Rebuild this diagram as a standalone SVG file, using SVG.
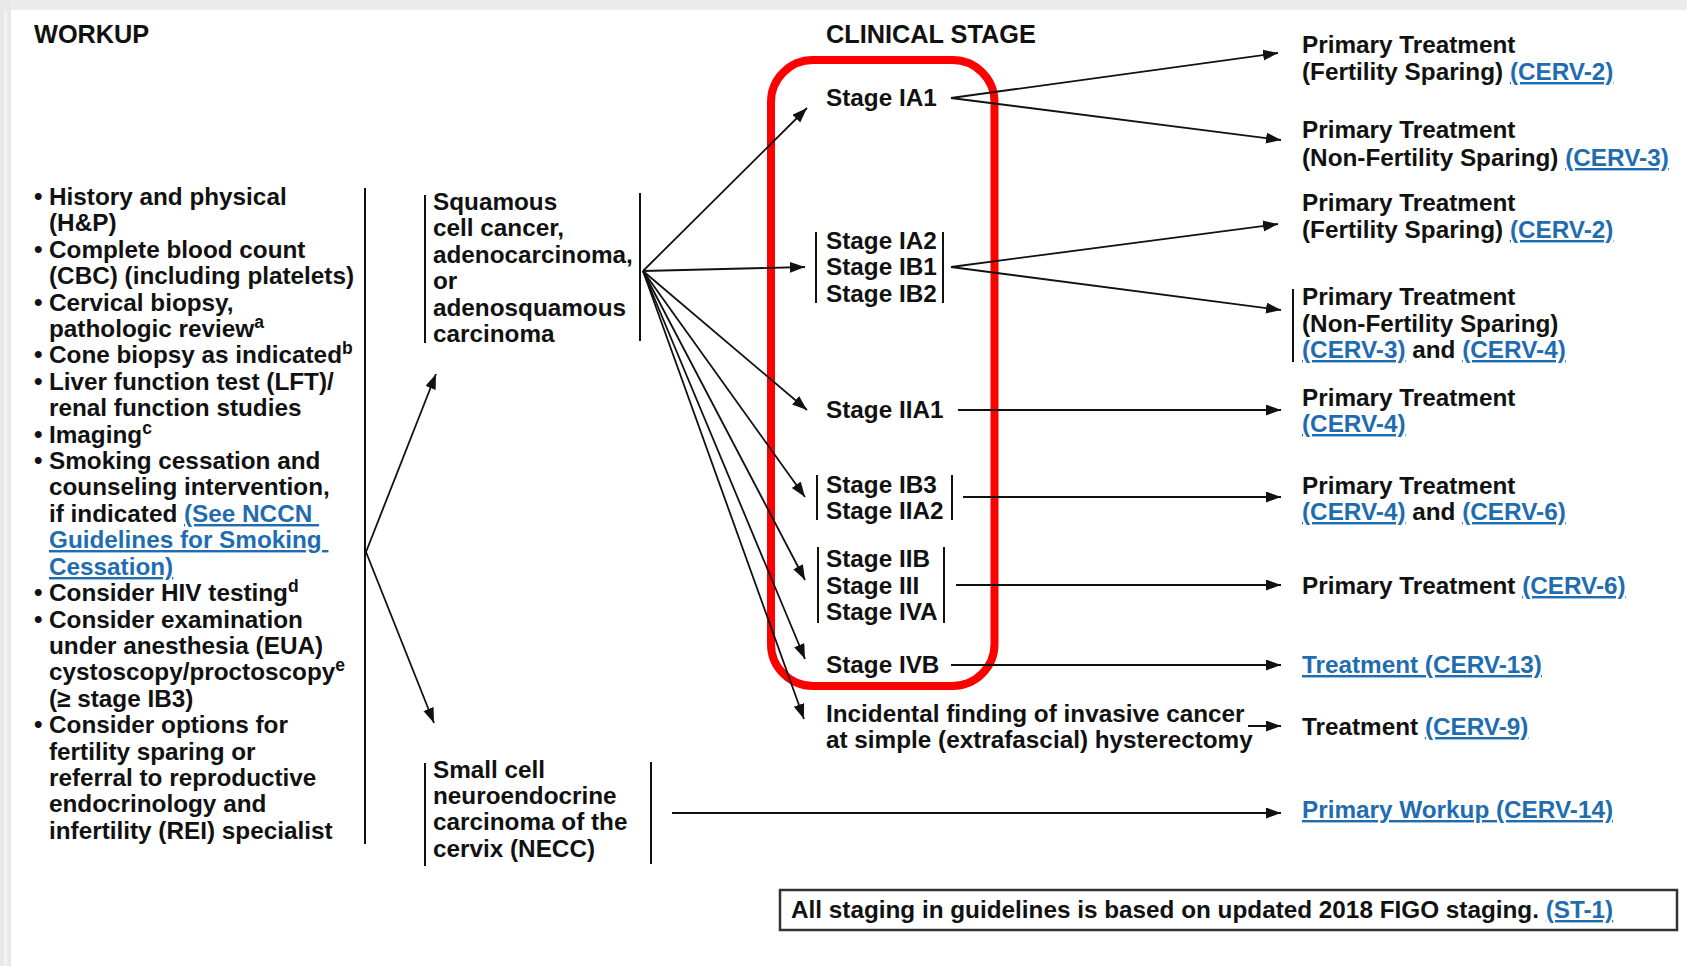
<svg xmlns="http://www.w3.org/2000/svg" width="1687" height="966" viewBox="0 0 1687 966">
<style>
.t{font-family:"Liberation Sans",Arial,Helvetica,sans-serif;font-weight:bold;font-size:24.3px;fill:#111;white-space:pre}
.h{font-size:25.3px}
.lk{fill:#1f6db0;text-decoration:underline}
.sup{font-size:17.5px}
.bar{stroke:#111;stroke-width:2;fill:none}
.ca{stroke:#111;stroke-width:1.8;fill:none;marker-end:url(#ah)}
</style>
<defs>
<marker id="ah" markerUnits="userSpaceOnUse" markerWidth="16" markerHeight="12" refX="15" refY="5.5" orient="auto">
<path d="M0,0 L15,5.5 L0,11 z" fill="#111"/>
</marker>
</defs>
<rect x="0" y="0" width="1687" height="966" fill="#ffffff"/>
<rect x="0" y="0" width="1687" height="10" fill="#ebebeb"/>
<rect x="0" y="0" width="11" height="966" fill="#e8e8e8"/>
<rect x="4" y="10" width="3" height="956" fill="#f2f2f2"/>

<g id="header-workup"><text class="t h" x="34" y="43">WORKUP</text></g>
<g id="header-stage"><text class="t h" x="826" y="43">CLINICAL STAGE</text></g>

<g id="workup">
<text class="t" x="34" y="205">•</text><text class="t" x="49" y="205">History and physical</text>
<text class="t" x="49" y="231">(H&amp;P)</text>
<text class="t" x="34" y="258">•</text><text class="t" x="49" y="258">Complete blood count</text>
<text class="t" x="49" y="284">(CBC) (including platelets)</text>
<text class="t" x="34" y="311">•</text><text class="t" x="49" y="311">Cervical biopsy,</text>
<text class="t" x="49" y="337">pathologic review<tspan class="sup" dy="-9">a</tspan></text>
<text class="t" x="34" y="363">•</text><text class="t" x="49" y="363">Cone biopsy as indicated<tspan class="sup" dy="-9">b</tspan></text>
<text class="t" x="34" y="390">•</text><text class="t" x="49" y="390">Liver function test (LFT)/</text>
<text class="t" x="49" y="416">renal function studies</text>
<text class="t" x="34" y="443">•</text><text class="t" x="49" y="443">Imaging<tspan class="sup" dy="-9">c</tspan></text>
<text class="t" x="34" y="469">•</text><text class="t" x="49" y="469">Smoking cessation and</text>
<text class="t" x="49" y="495">counseling intervention,</text>
<text class="t" x="49" y="522">if indicated <tspan class="lk">(See NCCN </tspan></text>
<text class="t" x="49" y="548"><tspan class="lk">Guidelines for Smoking </tspan></text>
<text class="t" x="49" y="575"><tspan class="lk">Cessation)</tspan></text>
<text class="t" x="34" y="601">•</text><text class="t" x="49" y="601">Consider HIV testing<tspan class="sup" dy="-9">d</tspan></text>
<text class="t" x="34" y="628">•</text><text class="t" x="49" y="628">Consider examination</text>
<text class="t" x="49" y="654">under anesthesia (EUA)</text>
<text class="t" x="49" y="680">cystoscopy/proctoscopy<tspan class="sup" dy="-9">e</tspan></text>
<text class="t" x="49" y="707">(≥ stage IB3)</text>
<text class="t" x="34" y="733">•</text><text class="t" x="49" y="733">Consider options for</text>
<text class="t" x="49" y="760">fertility sparing or</text>
<text class="t" x="49" y="786">referral to reproductive</text>
<text class="t" x="49" y="812">endocrinology and</text>
<text class="t" x="49" y="839">infertility (REI) specialist</text>
<line class="bar" x1="365" y1="188" x2="365" y2="844"/>
</g>

<g id="squamous">
<line class="bar" x1="425" y1="195" x2="425" y2="343"/>
<text class="t" x="433" y="210">Squamous</text>
<text class="t" x="433" y="236">cell cancer,</text>
<text class="t" x="433" y="263">adenocarcinoma,</text>
<text class="t" x="433" y="289">or</text>
<text class="t" x="433" y="316">adenosquamous</text>
<text class="t" x="433" y="342">carcinoma</text>
<line class="bar" x1="640" y1="193" x2="640" y2="341"/>
</g>

<g id="necc">
<line class="bar" x1="425" y1="763" x2="425" y2="866"/>
<text class="t" x="433" y="778">Small cell</text>
<text class="t" x="433" y="804">neuroendocrine</text>
<text class="t" x="433" y="830">carcinoma of the</text>
<text class="t" x="433" y="857">cervix (NECC)</text>
<line class="bar" x1="651" y1="762" x2="651" y2="864"/>
</g>

<g id="highlight">
<rect x="771" y="60" width="223.5" height="626" rx="42" ry="42" fill="none" stroke="#ff0000" stroke-width="8"/>
</g>

<g id="stage-ia1"><text class="t" x="826" y="106">Stage IA1</text></g>
<g id="stage-ia2">
<line class="bar" x1="816" y1="232" x2="816" y2="303"/>
<text class="t" x="826" y="249">Stage IA2</text>
<text class="t" x="826" y="275">Stage IB1</text>
<text class="t" x="826" y="302">Stage IB2</text>
<line class="bar" x1="943" y1="232" x2="943" y2="303"/>
</g>
<g id="stage-iia1"><text class="t" x="826" y="418">Stage IIA1</text></g>
<g id="stage-ib3">
<line class="bar" x1="817" y1="475" x2="817" y2="520"/>
<text class="t" x="826" y="493">Stage IB3</text>
<text class="t" x="826" y="519">Stage IIA2</text>
<line class="bar" x1="952" y1="475" x2="952" y2="520"/>
</g>
<g id="stage-iib">
<line class="bar" x1="818" y1="547" x2="818" y2="623"/>
<text class="t" x="826" y="567">Stage IIB</text>
<text class="t" x="826" y="594">Stage III</text>
<text class="t" x="826" y="620">Stage IVA</text>
<line class="bar" x1="944" y1="547" x2="944" y2="623"/>
</g>
<g id="stage-ivb"><text class="t" x="826" y="673">Stage IVB</text></g>
<g id="incidental">
<text class="t" x="826" y="722">Incidental finding of invasive cancer</text>
<text class="t" x="826" y="748">at simple (extrafascial) hysterectomy</text>
</g>

<g id="tx-fs1">
<text class="t" x="1302" y="53">Primary Treatment</text>
<text class="t" x="1302" y="80">(Fertility Sparing) <tspan class="lk">(CERV-2)</tspan></text>
</g>
<g id="tx-nfs1">
<text class="t" x="1302" y="138">Primary Treatment</text>
<text class="t" x="1302" y="166">(Non-Fertility Sparing) <tspan class="lk">(CERV-3)</tspan></text>
</g>
<g id="tx-fs2">
<text class="t" x="1302" y="211">Primary Treatment</text>
<text class="t" x="1302" y="238">(Fertility Sparing) <tspan class="lk">(CERV-2)</tspan></text>
</g>
<g id="tx-nfs2">
<line class="bar" x1="1293" y1="289" x2="1293" y2="362"/>
<text class="t" x="1302" y="305">Primary Treatment</text>
<text class="t" x="1302" y="332">(Non-Fertility Sparing)</text>
<text class="t" x="1302" y="358"><tspan class="lk">(CERV-3)</tspan> and <tspan class="lk">(CERV-4)</tspan></text>
</g>
<g id="tx-cerv4">
<text class="t" x="1302" y="406">Primary Treatment</text>
<text class="t" x="1302" y="432"><tspan class="lk">(CERV-4)</tspan></text>
</g>
<g id="tx-cerv46">
<text class="t" x="1302" y="494">Primary Treatment</text>
<text class="t" x="1302" y="520"><tspan class="lk">(CERV-4)</tspan> and <tspan class="lk">(CERV-6)</tspan></text>
</g>
<g id="tx-cerv6"><text class="t" x="1302" y="594">Primary Treatment <tspan class="lk">(CERV-6)</tspan></text></g>
<g id="tx-cerv13"><text class="t" x="1302" y="673"><tspan class="lk">Treatment (CERV-13)</tspan></text></g>
<g id="tx-cerv9"><text class="t" x="1302" y="735">Treatment <tspan class="lk">(CERV-9)</tspan></text></g>
<g id="tx-cerv14"><text class="t" x="1302" y="818"><tspan class="lk">Primary Workup (CERV-14)</tspan></text></g>

<g id="note">
<rect x="780" y="890" width="897" height="40" fill="none" stroke="#333" stroke-width="2.5"/>
<text class="t" x="791" y="918">All staging in guidelines is based on updated 2018 FIGO staging. <tspan class="lk">(ST-1)</tspan></text>
</g>

<g id="connectors">
<line class="ca" x1="366" y1="552" x2="436" y2="374"/>
<line class="ca" x1="366" y1="552" x2="434" y2="723"/>
<line class="ca" x1="643" y1="271" x2="807" y2="108"/>
<line class="ca" x1="643" y1="271" x2="805" y2="267"/>
<line class="ca" x1="643" y1="271" x2="807" y2="410"/>
<line class="ca" x1="643" y1="271" x2="805" y2="497"/>
<line class="ca" x1="643" y1="271" x2="805" y2="580"/>
<line class="ca" x1="643" y1="271" x2="805" y2="659"/>
<line class="ca" x1="643" y1="271" x2="804" y2="719"/>
<line class="ca" x1="951" y1="98" x2="1278" y2="53"/>
<line class="ca" x1="951" y1="98" x2="1281" y2="140"/>
<line class="ca" x1="951" y1="267" x2="1278" y2="224"/>
<line class="ca" x1="951" y1="267" x2="1281" y2="310"/>
<line class="ca" x1="958" y1="410" x2="1281" y2="410"/>
<line class="ca" x1="963" y1="497" x2="1281" y2="497"/>
<line class="ca" x1="956" y1="585" x2="1281" y2="585"/>
<line class="ca" x1="951" y1="665" x2="1281" y2="665"/>
<line class="ca" x1="1248" y1="726" x2="1281" y2="726"/>
<line class="ca" x1="672" y1="813" x2="1281" y2="813"/>
</g>
</svg>
